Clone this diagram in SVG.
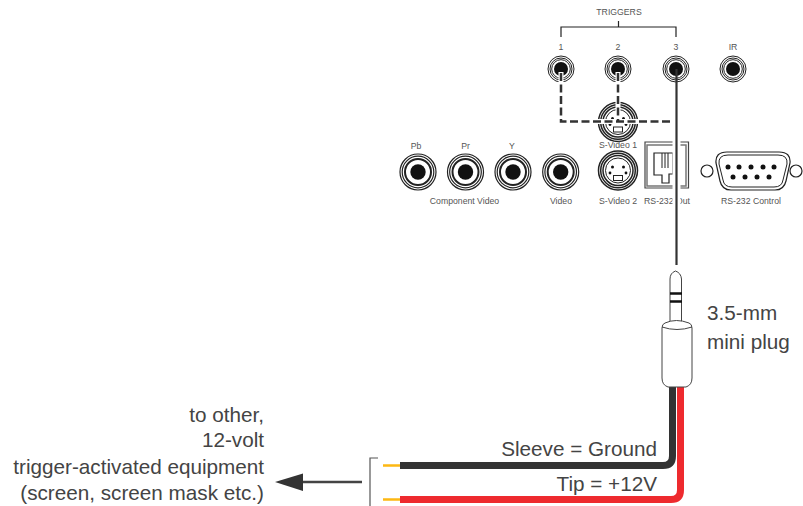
<svg xmlns="http://www.w3.org/2000/svg" width="803" height="506" viewBox="0 0 803 506">
<style>
text{font-family:"Liberation Sans",Arial,sans-serif;fill:#3a3a3a}
.s{font-size:8.700px;text-anchor:middle;fill:#555}
.b{font-size:20.700px;fill:#444}
.e{font-size:20.700px;text-anchor:end;fill:#444}
.n{fill:none;stroke:#222}
.w{fill:none;stroke-linecap:butt}
</style>
<defs>
<g id="rca"><circle r="18" fill="#fff" stroke="#222" stroke-width="1.200"/><circle r="15.800" class="n" stroke-width="1.200"/><circle r="13" class="n" stroke-width="2"/><circle r="7.700" fill="#111"/></g>
<g id="trig"><circle r="13" fill="#fff" stroke="#222" stroke-width="1"/><circle r="11" class="n" stroke-width="1"/><circle r="9.300" class="n" stroke-width="1"/><circle r="7" fill="#111"/></g>
<g id="svid"><circle r="19.500" fill="#fff" stroke="#222" stroke-width="1.500"/><circle r="17.300" class="n" stroke-width="1.500"/><circle r="15" class="n" stroke-width="1.500"/><circle r="12.500" class="n" stroke-width="1"/><circle cx="-5.500" cy="-3.500" r="1.500" fill="#111"/><circle cx="5.500" cy="-3.500" r="1.500" fill="#111"/><circle cx="-8" cy="2.500" r="1.400" fill="#111"/><circle cx="8" cy="2.500" r="1.400" fill="#111"/><rect x="-4.500" y="5" width="9" height="5" fill="#fff" stroke="#222"/></g>
</defs>

<g id="triggers-label"><text class="s" x="619" y="15">TRIGGERS</text><path class="n" stroke-width="1.200" d="M561 37V27H676V37M618.500 27V21"/></g>
<g id="trigger-1"><text class="s" x="561" y="50">1</text><use href="#trig" x="561" y="69"/></g>
<g id="trigger-2"><text class="s" x="618" y="50">2</text><use href="#trig" x="618" y="69"/></g>
<g id="trigger-3"><text class="s" x="676" y="50">3</text><use href="#trig" x="676" y="69"/></g>
<g id="ir"><text class="s" x="733" y="49.500">IR</text><use href="#trig" x="733" y="69"/></g>
<g id="pb"><text class="s" x="416" y="148.500">Pb</text><use href="#rca" x="418" y="172"/></g>
<g id="pr"><text class="s" x="465.500" y="148.500">Pr</text><use href="#rca" x="465.500" y="172"/></g>
<g id="y"><text class="s" x="512" y="148.500">Y</text><use href="#rca" x="513" y="172"/></g>
<g id="video"><use href="#rca" x="560.700" y="172"/><text class="s" x="561" y="204">Video</text></g>
<text class="s" x="464.500" y="204">Component Video</text>
<g id="s-video-1"><use href="#svid" x="618" y="122"/><text class="s" x="618" y="148">S-Video 1</text></g>
<g id="s-video-2"><use href="#svid" x="618" y="170.500"/><text class="s" x="618" y="204">S-Video 2</text></g>
<g id="rs232-out"><path fill="none" stroke="#444" stroke-width="1.200" d="M645 142H688.500V188H645Z"/><path fill="none" stroke="#777" stroke-width="1.500" d="M647 145H686V186H647Z"/><path class="n" stroke-width="1.200" d="M654 153H673V174H669V183H662V175H654Z"/><path class="n" stroke-width="1" d="M662 153V168M665 153V168M668 153V168"/><text class="s" x="667" y="204">RS-232 Out</text></g>
<g id="rs232-control">
<circle cx="707" cy="171" r="6" fill="#fff" stroke="#222" stroke-width="1.200"/><circle cx="796" cy="171" r="6" fill="#fff" stroke="#222" stroke-width="1.200"/>
<path fill="#fff" stroke="#222" stroke-width="1.200" d="M727 152H779Q791 152 790 163L786 181Q784 190 775 190H731Q722 190 720 181L716 163Q715 152 727 152Z"/>
<path class="n" d="M728 155H778Q788 155 787 164L783 180Q782 187 774 187H732Q724 187 723 180L719 164Q718 155 728 155Z"/>
<g fill="#111"><circle cx="728" cy="167" r="2.500"/><circle cx="739" cy="167" r="2.500"/><circle cx="751" cy="167" r="2.500"/><circle cx="763" cy="167" r="2.500"/><circle cx="774" cy="167" r="2.500"/><circle cx="733" cy="177" r="2.500"/><circle cx="745" cy="177" r="2.500"/><circle cx="757" cy="177" r="2.500"/><circle cx="769" cy="177" r="2.500"/></g>
<text class="s" x="751" y="204">RS-232 Control</text></g>

<g id="connectors">
<path fill="none" stroke="#fff" stroke-width="5" d="M561 72V121.500H672M618 72V121.500"/>
<path fill="none" stroke="#333" stroke-width="2.500" stroke-dasharray="8 3.500" d="M561 73V121.500H673M618 73V121"/>
<path fill="none" stroke="#fff" stroke-width="8" d="M676.500 138V208"/>
<path fill="none" stroke="#333" stroke-width="2.200" d="M676.500 69V265"/>
<path d="M362 482H300" fill="none" stroke="#444" stroke-width="2.500"/>
<path d="M275 482L303 473.500V491Z" fill="#333"/>
<path fill="none" stroke="#555" stroke-width="1.200" d="M378 458H370V506"/>
<path d="M383 465.500H400M383 499.500H400" fill="none" stroke="#fdb813" stroke-width="2.500"/>
<path class="w" stroke="#ee2a2e" stroke-width="7" d="M680.500 385V490Q680.500 499.500 671 499.500H400"/>
<path class="w" stroke="#333" stroke-width="7" d="M672.500 385V456Q672.500 465.500 663 465.500H400"/>
</g>

<g id="plug">
<path fill="#fff" stroke="#444" stroke-width="1" d="M670 323V279Q670 273 675.500 271Q681 273 681.500 279V323Z"/>
<path stroke="#111" stroke-width="2.500" d="M670 293.500H682M670 301.500H682"/>
<path fill="#fff" stroke="#444" stroke-width="1" d="M665 323Q676 318 689 323Q692 324 692 328V378Q692 385 686 387H668Q662 385 662 378V328Q662 324 665 323Z"/>
<path fill="none" stroke="#444" stroke-width="1" d="M662 327Q677 332 692 327"/>
</g>

<g id="labels">
<text class="b" x="707" y="320">3.5-mm</text><text class="b" x="707" y="349">mini plug</text>
<text class="e" x="657" y="456">Sleeve = Ground</text><text class="e" x="657" y="491">Tip = +12V</text>
<text class="e" x="264" y="422">to other,</text><text class="e" x="264" y="447">12-volt</text><text class="e" x="264" y="474">trigger-activated equipment</text><text class="e" x="264" y="500">(screen, screen mask etc.)</text>
</g>
</svg>
